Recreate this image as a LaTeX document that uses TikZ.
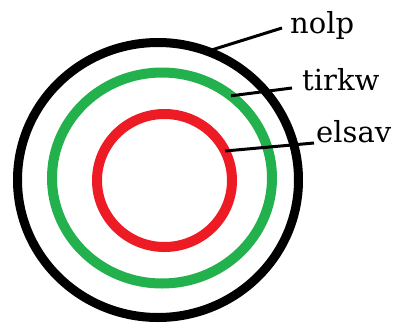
\documentclass[tikz,border=0pt]{standalone}
\usepackage{fontspec}
\setmainfont{DejaVu Serif}
\usetikzlibrary{shapes.geometric}

\definecolor{ringred}{RGB}{237,28,36}
\definecolor{ringgreen}{RGB}{34,177,76}

\begin{document}
\begin{tikzpicture}[
    x=1pt, y=-1pt,
    ring/.style={
        ellipse,
        draw,
        inner sep=0pt,
        outer sep=0pt
    },
    tag/.style={
        anchor=base west,
        inner sep=0pt,
        font=\fontsize{29}{34}\selectfont
    },
    leader/.style={line width=3pt}
]
\useasboundingbox (0,0) rectangle (394,325);

\node[ring, line width=9pt, minimum width=281pt, minimum height=275pt] (nolpring) at (158,180) {};
\node[ring, ringgreen, line width=10pt, minimum width=220pt, minimum height=211pt] (tirkwring) at (162,178) {};
\node[ring, ringred, line width=10pt, minimum width=135pt, minimum height=133pt] (elsavring) at (164.5,180.5) {};

\node[tag] (nolp) at (290,33) {nolp};
\node[tag] (tirkw) at (302,90) {tirkw};
\node[tag] (elsav) at (316,142) {elsav};

\draw[leader] (nolpring.69) -- ([xshift=-8pt,yshift=5pt]nolp.base west);
\draw[leader] (tirkwring.50) -- ([xshift=-10pt,yshift=2pt]tirkw.base west);
\draw[leader] (elsavring.26) -- ([xshift=-2pt,yshift=-1pt]elsav.base west);

\end{tikzpicture}
\end{document}
